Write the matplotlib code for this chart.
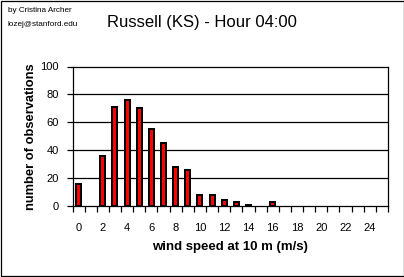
import numpy as np
import matplotlib
matplotlib.use("Agg")
import matplotlib.pyplot as plt
from matplotlib.patches import Rectangle

plt.rcParams['font.family'] = ['Liberation Sans', 'DejaVu Sans']

# wind speed bins (m/s) and counts
speeds = list(range(26))
counts = [16, 0, 36, 71, 76, 70, 55, 45, 28, 26, 8, 8, 4, 3, 1, 0, 3,
          0, 0, 0, 0, 0, 0, 0, 0, 0]
tick_labels = [str(s) for s in range(0, 25, 2)]
y_ticks = [0, 20, 40, 60, 80, 100]

title = "Russell (KS) - Hour 04:00"
credit = ["by Cristina Archer", "lozej@stanford.edu"]

fig = plt.figure(figsize=(4.04, 2.77), dpi=100)
ax = fig.add_axes([72.5 / 404, 71 / 277, 315.5 / 404, 139.5 / 277])

# empty bins get no bar at all (no outline)
x = np.array(speeds)
c = np.array(counts)
nz = c > 0
ax.bar(x[nz], c[nz], width=0.41, color='#ff0000', edgecolor='black',
       linewidth=1.45, zorder=3)

ax.set_xlim(-0.5, 25.5)
ax.set_ylim(0, 100)

# gridlines
for y in y_ticks[1:-1]:
    ax.axhline(y, color='black', linewidth=0.9, zorder=1)

ax.set_yticks(y_ticks)
ax.set_yticklabels([str(v) for v in y_ticks], fontsize=8)
ax.tick_params(axis='y', direction='out', length=4, width=0.9, pad=6)

# tick marks between categories, labels on the even categories
ax.set_xticks(range(0, 25, 2))
ax.set_xticklabels(tick_labels, fontsize=8)
ax.set_xticks(np.arange(-0.5, 26, 1), minor=True)
ax.tick_params(axis='x', which='major', length=0, pad=12)
ax.tick_params(axis='x', which='minor', direction='out', length=4, width=0.9)

for s in ax.spines.values():
    s.set_linewidth(0.9)
    s.set_color('black')

ax.set_xlabel("wind speed at 10 m (m/s)", fontsize=9.5, fontweight='bold',
              labelpad=6)
ax.set_ylabel("number of observations", fontsize=9.3, fontweight='bold',
              labelpad=2.5)

fig.text(202 / 404, 1 - 22 / 277, title, fontsize=12, ha='center', va='center')
fig.text(8 / 404, 1 - 11 / 277, credit[0], fontsize=5.9, ha='left', va='center')
fig.text(8 / 404, 1 - 24 / 277, credit[1], fontsize=5.9, ha='left', va='center')

fig.add_artist(Rectangle((0.5 / 404, 1.5 / 277), 403 / 404, 275 / 277,
                         transform=fig.transFigure, fill=False,
                         edgecolor='black', linewidth=0.9))

fig.savefig("out.png", dpi=100)
